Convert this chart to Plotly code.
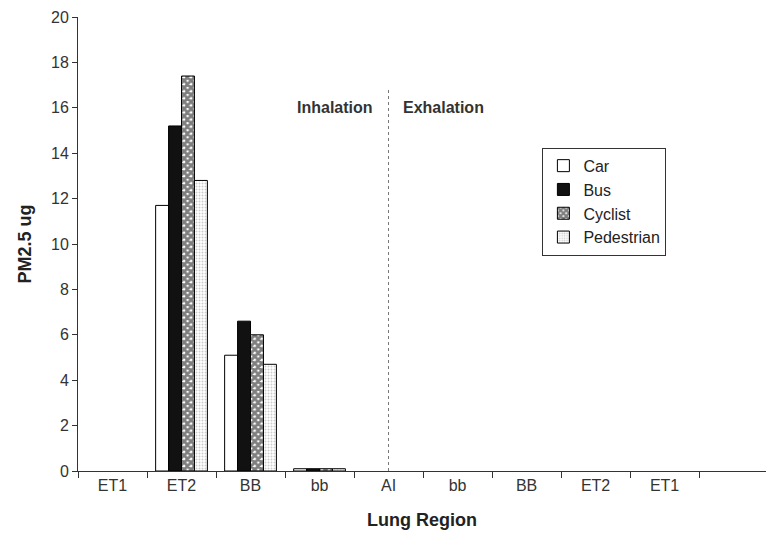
import plotly.graph_objects as go

# Lung regions along the breathing path (inhalation then exhalation)
region_keys = ["ET1_in", "ET2_in", "BB_in", "bb_in", "AI", "bb_out", "BB_out", "ET2_out", "ET1_out"]
region_labels = ["ET1", "ET2", "BB", "bb", "AI", "bb", "BB", "ET2", "ET1"]

# Deposited PM2.5 mass (ug) per commuter mode; None where nothing is plotted
car = [None, 11.7, 5.1, 0.1, None, None, None, None, None]
bus = [None, 15.2, 6.6, 0.1, None, None, None, None, None]
cyclist = [None, 17.4, 6.0, 0.1, None, None, None, None, None]
pedestrian = [None, 12.8, 4.7, 0.1, None, None, None, None, None]

font_family = "Liberation Sans, Arial, sans-serif"
axis_color = "#333333"

fig = go.Figure()

fig.add_trace(go.Bar(
    name="Car", x=region_keys, y=car,
    marker=dict(color="white", line=dict(color="black", width=1)),
))
fig.add_trace(go.Bar(
    name="Bus", x=region_keys, y=bus,
    marker=dict(color="#111111", line=dict(color="black", width=1)),
))
fig.add_trace(go.Bar(
    name="Cyclist", x=region_keys, y=cyclist,
    marker=dict(
        color="white",
        line=dict(color="black", width=1),
        pattern=dict(shape="x", fgcolor="#000000", bgcolor="white",
                     size=5, solidity=0.8, fillmode="overlay"),
    ),
))
fig.add_trace(go.Bar(
    name="Pedestrian", x=region_keys, y=pedestrian,
    marker=dict(
        color="white",
        line=dict(color="black", width=1),
        pattern=dict(shape=".", fgcolor="#9a9a9a", bgcolor="white",
                     size=3, solidity=0.35, fillmode="overlay"),
    ),
))

# Divider between inhalation and exhalation at the alveolar region
fig.add_shape(
    type="line", xref="x", yref="y",
    x0="AI", x1="AI", y0=0, y1=16.9,
    line=dict(color="#777777", width=1, dash="dot"),
)

fig.add_annotation(x="AI", y=16.0, text="<b>Inhalation</b>", showarrow=False,
                   xref="x", yref="y", xanchor="right", yanchor="middle", xshift=-14,
                   font=dict(family=font_family, size=16, color="#333333"))
fig.add_annotation(x="AI", y=16.0, text="<b>Exhalation</b>", showarrow=False,
                   xref="x", yref="y", xanchor="left", yanchor="middle", xshift=12,
                   font=dict(family=font_family, size=16, color="#333333"))

fig.update_layout(
    width=766, height=537,
    margin=dict(l=78, r=0, t=17, b=66),
    paper_bgcolor="white", plot_bgcolor="white",
    barmode="group", bargap=0.25, bargroupgap=0,
    font=dict(family=font_family, size=16, color="#333333"),
    showlegend=True,
    legend=dict(
        x=0.675, y=0.712, xanchor="left", yanchor="top",
        bgcolor="white", bordercolor=axis_color, borderwidth=1,
        font=dict(family=font_family, size=16, color="#222222"),
        itemwidth=30, tracegroupgap=0,
    ),
    xaxis=dict(
        type="category",
        categoryorder="array", categoryarray=region_keys,
        tickvals=region_keys, ticktext=region_labels,
        tickson="boundaries", ticks="outside", ticklen=6, tickcolor=axis_color,
        showline=True, linecolor=axis_color, linewidth=1,
        showgrid=False, zeroline=False, layer="above traces",
        range=[-0.5, 9.47],
        tickfont=dict(size=16, color="#333333"),
        title=dict(text="<b>Lung Region</b>", font=dict(size=18, color="#222222"), standoff=20),
    ),
    yaxis=dict(
        range=[0, 20], dtick=2,
        ticks="outside", ticklen=5, tickcolor=axis_color,
        showline=True, linecolor=axis_color, linewidth=1,
        showgrid=False, zeroline=False, layer="above traces",
        tickfont=dict(size=16, color="#333333"),
        title=dict(text="<b>PM2.5 ug</b>", font=dict(size=18, color="#222222"), standoff=14),
    ),
)

fig.write_html("out.html")
